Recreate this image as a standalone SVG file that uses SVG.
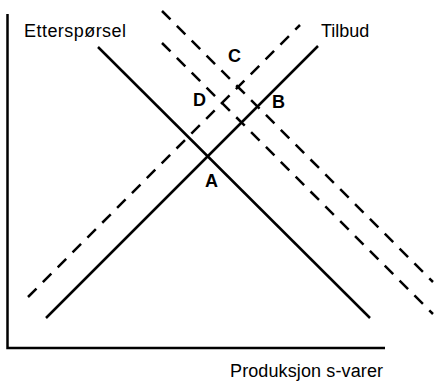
<svg xmlns="http://www.w3.org/2000/svg" width="437" height="381" viewBox="0 0 437 381">
<style>
.ln{stroke:#000;stroke-width:2.5;fill:none;stroke-linecap:butt}
.ds{stroke-dasharray:12 9}
.lbl{font-family:"Liberation Sans",Arial,sans-serif;font-size:18px;fill:#000}
.pt{font-family:"Liberation Sans",Arial,sans-serif;font-size:18px;font-weight:bold;fill:#000}
</style>
<rect width="437" height="381" fill="#fff"/>
<g id="axes">
<polyline class="ln" points="7.5,14 7.5,348 385,348"/>
</g>
<g id="connectors">
<line id="demand" class="ln" x1="98" y1="47" x2="370" y2="318"/>
<line id="supply" class="ln" x1="46" y1="318" x2="318" y2="46"/>
<line id="supply2" class="ln ds" x1="28" y1="297" x2="300" y2="25"/>
<line id="demand2" class="ln ds" x1="162" y1="43" x2="433" y2="314"/>
<line id="demand3" class="ln ds" x1="162" y1="11" x2="433" y2="282"/>
</g>
<g id="labels">
<text class="lbl" x="24" y="37" textLength="102" lengthAdjust="spacing">Etterspørsel</text>
<text class="lbl" x="321" y="37">Tilbud</text>
<text class="lbl" x="230" y="377" textLength="153" lengthAdjust="spacing">Produksjon s-varer</text>
<text class="pt" x="205" y="187">A</text>
<text class="pt" x="272" y="108">B</text>
<text class="pt" x="228" y="62">C</text>
<text class="pt" x="193" y="106">D</text>
</g>
</svg>
